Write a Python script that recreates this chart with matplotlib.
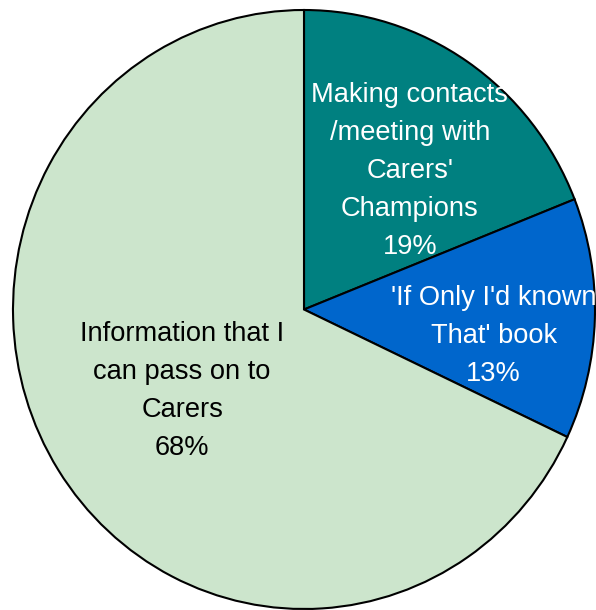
import matplotlib
matplotlib.use("Agg")
import matplotlib.pyplot as plt

plt.rcParams['font.family'] = ['Liberation Sans', 'DejaVu Sans']

categories = ["Making contacts\n/meeting with\nCarers'\nChampions",
              "'If Only I'd known\nThat' book",
              "Information that I\ncan pass on to\nCarers"]
shares = [19, 13, 68]
colors = ["#008080", "#0066CC", "#CCE5CC"]
text_colors = ["white", "white", "black"]
# label anchor positions inside the unit pie
label_xy = [(0.364, 0.462), (0.652, -0.088), (-0.419, -0.272)]

fig = plt.figure(figsize=(5.96, 6.10), dpi=100)
ax = fig.add_axes([0, 0, 1, 1])
ax.pie(shares, colors=colors, startangle=90, counterclock=False, radius=1.0,
       wedgeprops=dict(edgecolor="black", linewidth=1.5))

for name, val, (x, y), tc in zip(categories, shares, label_xy, text_colors):
    ax.text(x, y, f"{name}\n{val}%", ha="center", va="center", color=tc,
            fontsize=19.6, linespacing=1.6)

# slightly taller than wide, as drawn
rx, ry = 291.0, 299.5
cx, cy = 304.0, 309.5
ax.set_xlim(-cx / rx, (596 - cx) / rx)
ax.set_ylim(-(610 - cy) / ry, cy / ry)
ax.set_aspect("auto")
ax.axis("off")
fig.savefig("out.png", dpi=100)
